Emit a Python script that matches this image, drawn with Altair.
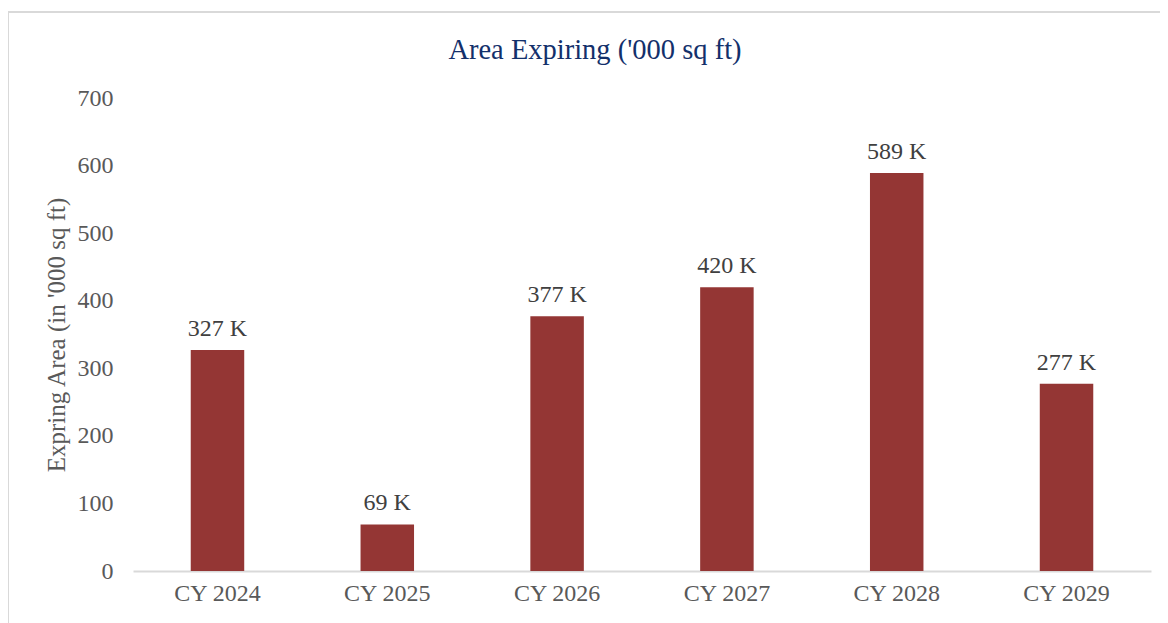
import altair as alt
import pandas as pd

categories = ["CY 2024", "CY 2025", "CY 2026", "CY 2027", "CY 2028", "CY 2029"]
values = [327, 69, 377, 420, 589, 277]
labels = ["327 K", "69 K", "377 K", "420 K", "589 K", "277 K"]

df = pd.DataFrame({"cat": categories, "val": values, "lab": labels})

FONT = "Liberation Serif"
W, H = 1018, 473

x_enc = alt.X("cat:N", sort=categories, title=None,
              scale=alt.Scale(paddingInner=0.685, paddingOuter=0.34),
              axis=alt.Axis(labelAngle=0, ticks=False, domainColor="#D9D9D9", domainWidth=2,
                            labelFont=FONT, labelFontSize=24, labelColor="#595959", labelPadding=10))
y_enc = alt.Y("val:Q", title="Expring Area (in '000 sq ft)",
              scale=alt.Scale(domain=[0, 700], nice=False),
              axis=alt.Axis(values=[0, 100, 200, 300, 400, 500, 600, 700], grid=False, domain=False,
                            ticks=False, labelFont=FONT, labelFontSize=24, labelColor="#595959",
                            labelPadding=20, titleFont=FONT, titleFontSize=25, titleFontWeight="normal",
                            titleColor="#595959", titlePadding=8))

bars = alt.Chart(df).mark_bar(color="#943634").encode(x=x_enc, y=y_enc)
text = alt.Chart(df).mark_text(font=FONT, fontSize=24, color="#404040", baseline="bottom", dy=-9).encode(
    x=alt.X("cat:N", sort=categories), y=alt.Y("val:Q"), text="lab:N")

frame = alt.Chart(df).mark_rect(fill="transparent", stroke="#D9D9D9", strokeWidth=2).encode(
    x=alt.value(-125), x2=alt.value(W + 60), y=alt.value(-86), y2=alt.value(H + 100))

chart = alt.layer(frame, bars, text).properties(
    width=W, height=H,
    autosize=alt.AutoSizeParams(type="none"),
    padding={"left": 125, "top": 90, "right": 9, "bottom": 60},
    title=alt.TitleParams("Area Expiring ('000 sq ft)", font=FONT, fontSize=28.5, fontWeight="normal",
                          color="#13306B", anchor="middle", dx=-47, offset=-53),
).configure(background="white").configure_view(strokeWidth=0, stroke="transparent")

chart.save("out.html", embed_options={"renderer": "svg", "actions": False})
